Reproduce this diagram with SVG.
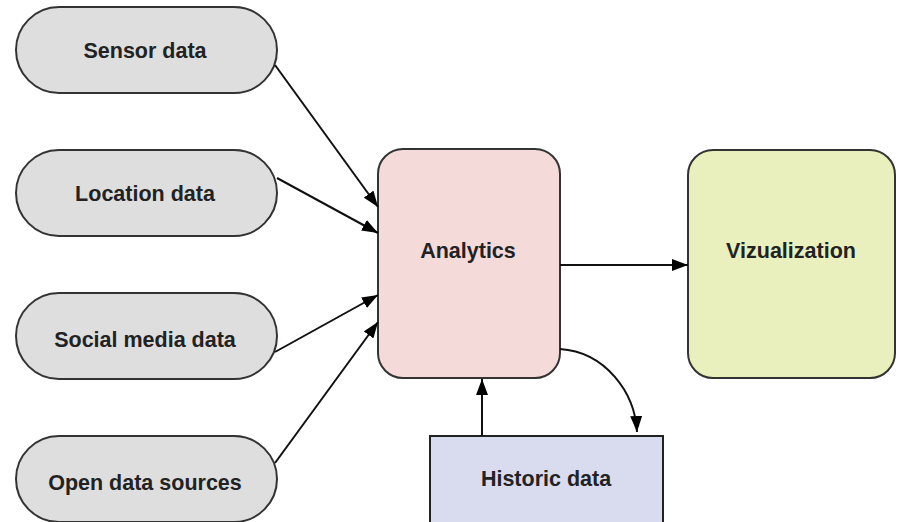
<svg xmlns="http://www.w3.org/2000/svg" width="899" height="522" viewBox="0 0 899 522">
<style>
.src{fill:#dedede;stroke:#333;stroke-width:2}
.lbl{font-family:"Liberation Sans",Arial,sans-serif;font-weight:bold;font-size:21.5px;fill:#222;text-anchor:middle}
.edge{fill:none;stroke:#111;stroke-width:2}
</style>
<defs>
<marker id="ah" viewBox="0 0 16 12" refX="16" refY="6" markerWidth="16" markerHeight="12" markerUnits="userSpaceOnUse" orient="auto">
<path d="M0,0 L16,6 L0,12 Z" fill="#000"/>
</marker>
</defs>
<rect width="899" height="522" fill="#fff"/>
<g id="sensor"><rect class="src" x="16" y="7" width="261" height="86" rx="43"/><text class="lbl" x="145" y="58">Sensor data</text></g>
<g id="location"><rect class="src" x="16" y="150" width="261" height="86" rx="43"/><text class="lbl" x="145" y="201">Location data</text></g>
<g id="social"><rect class="src" x="16" y="293" width="261" height="86" rx="43"/><text class="lbl" x="145" y="347">Social media data</text></g>
<g id="open"><rect class="src" x="16" y="436" width="261" height="86" rx="43"/><text class="lbl" x="145" y="490">Open data sources</text></g>
<g id="analytics"><rect x="378" y="149" width="182" height="229" rx="25" fill="#f5dada" stroke="#333" stroke-width="2"/><text class="lbl" x="468" y="258">Analytics</text></g>
<g id="vizualization"><rect x="688" y="150" width="207" height="228" rx="25" fill="#e9f0bd" stroke="#333" stroke-width="2"/><text class="lbl" x="791" y="258">Vizualization</text></g>
<g id="historic"><rect x="430" y="436" width="233" height="90" fill="#d9dbef" stroke="#222" stroke-width="2"/><text class="lbl" x="546" y="486">Historic data</text></g>
<g id="connectors">
<path class="edge" d="M275,65 L378,207" marker-end="url(#ah)"/>
<path class="edge" d="M277,178 L378,233" marker-end="url(#ah)"/>
<path class="edge" d="M275,352 L378,295" marker-end="url(#ah)"/>
<path class="edge" d="M275,463 L378,322" marker-end="url(#ah)"/>
<path class="edge" d="M560,265 L688,265" marker-end="url(#ah)"/>
<path class="edge" d="M482,436 L482,379" marker-end="url(#ah)"/>
<path class="edge" d="M560,349 C605,352 635,392 637,432" marker-end="url(#ah)"/>
</g>
</svg>
